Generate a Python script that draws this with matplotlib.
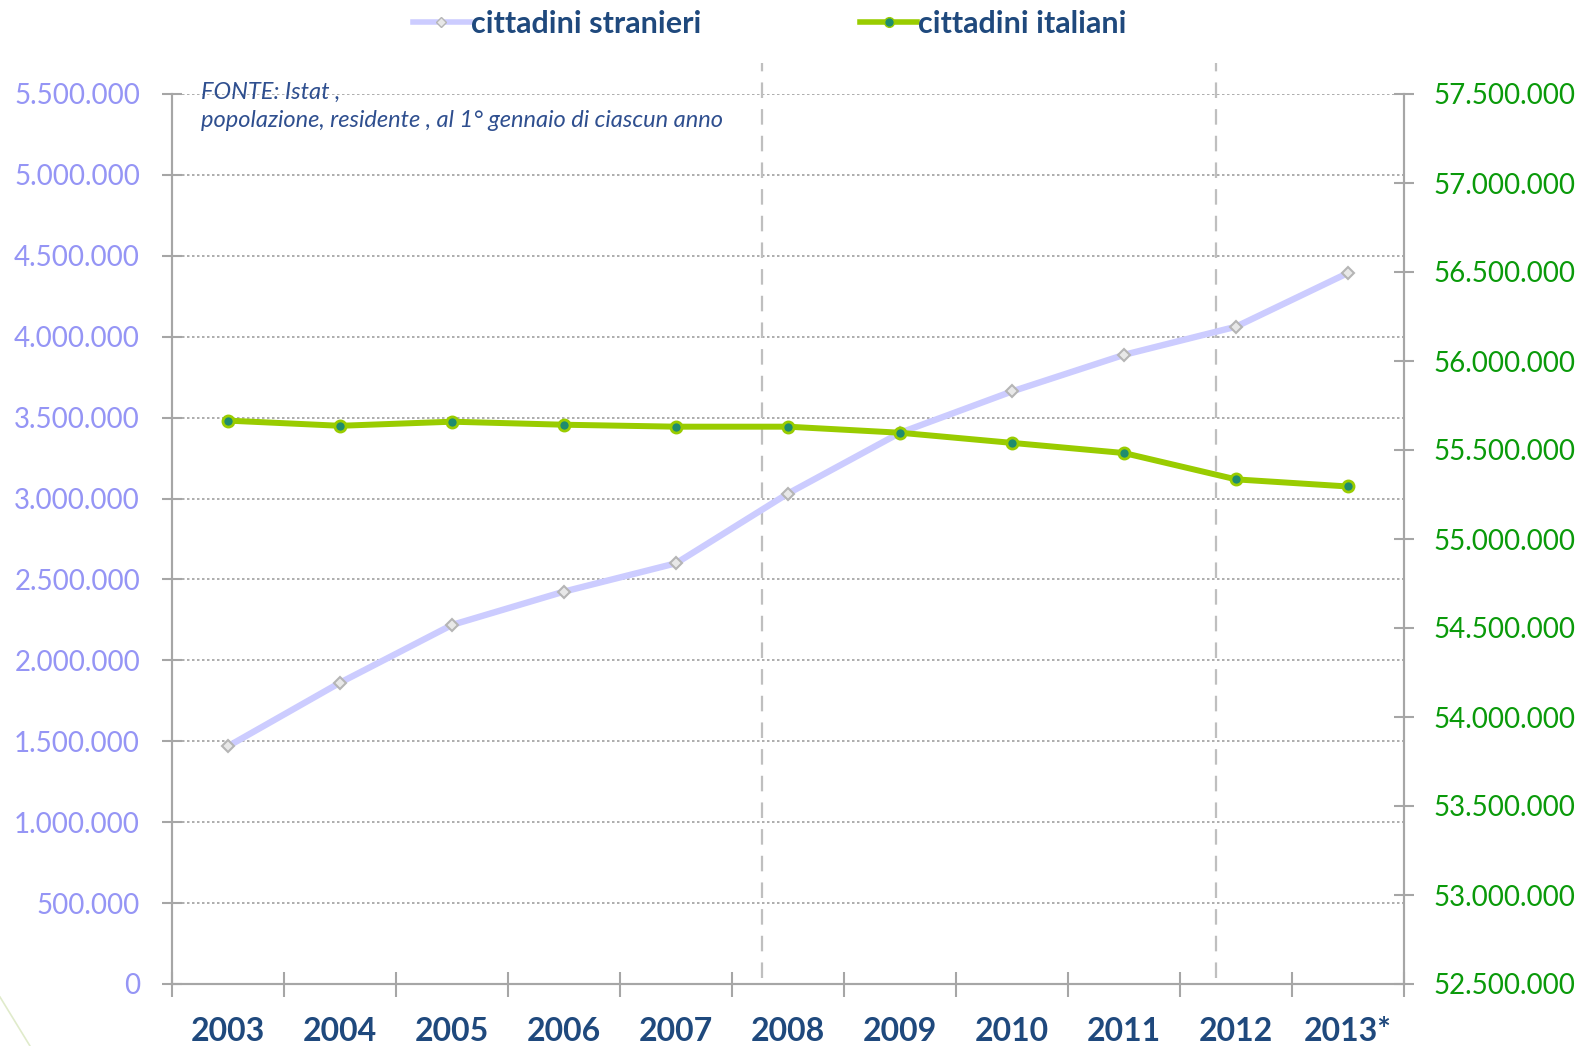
import numpy as np
import matplotlib.pyplot as plt
from matplotlib.ticker import FuncFormatter, FixedLocator
from matplotlib.lines import Line2D

plt.rcParams['font.family'] = ['Lato', 'DejaVu Sans']

anni = ["2003", "2004", "2005", "2006", "2007", "2008", "2009", "2010", "2011", "2012", "2013*"]
stranieri = [1469000, 1862000, 2219000, 2425000, 2600000, 3031000, 3406000, 3662000, 3888000, 4062000, 4394000]
italiani = [55665000, 55636000, 55659000, 55642000, 55631000, 55631000, 55597000, 55540000, 55483000, 55335000, 55295000]
linee_tratteggiate = [4.77, 8.82]

blu = "#1F497D"
lilla = "#CCCCFF"
verde = "#99CC00"
grigio = "#A6A6A6"

fig = plt.figure(figsize=(15.85, 10.46), dpi=100)
ax = fig.add_axes([172 / 1585, 1 - 984 / 1046, 1232 / 1585, 890 / 1046])
ax2 = ax.twinx()

x = np.arange(len(anni))

ax.plot(x, stranieri, color=lilla, lw=4.6, marker="D", ms=6, mfc="#E8E8E8",
        mec="#B5B5B5", mew=1.5, zorder=3, label="cittadini stranieri")
ax2.plot(x, italiani, color=verde, lw=4.3, marker="o", ms=8, mfc="#1E8C6E",
         mec=verde, mew=2, zorder=3, label="cittadini italiani")

ax.set_xlim(-0.5, len(anni) - 0.5)
ax.set_ylim(0, 5500000)
ax2.set_ylim(52500000, 57500000)

ax.set_yticks(np.arange(0, 5500001, 500000))
ax2.set_yticks(np.arange(52500000, 57500001, 500000))
fmt = FuncFormatter(lambda v, p: f"{int(v):,}".replace(",", "."))
ax.yaxis.set_major_formatter(fmt)
ax2.yaxis.set_major_formatter(fmt)

ax.xaxis.set_major_locator(FixedLocator(np.arange(-0.5, len(anni), 1)))
ax.xaxis.set_minor_locator(FixedLocator(x))
ax.set_xticklabels([], minor=False)
ax.set_xticklabels(anni, minor=True)
ax.tick_params(axis="x", which="major", direction="inout", length=18, width=1.5, color=grigio)
ax.tick_params(axis="x", which="minor", length=0, pad=24, labelsize=23, labelcolor=blu)
for t in ax.get_xticklabels(minor=True):
    t.set_fontweight("bold")

ax.tick_params(axis="y", direction="inout", length=14, width=1.5, color=grigio,
               labelsize=20, labelcolor="#9595F5", pad=16)
ax2.tick_params(axis="y", direction="inout", length=14, width=1.5, color=grigio,
                labelsize=20, labelcolor="#0A9A0A", pad=14)

ax.grid(axis="y", linestyle=(0, (1.5, 1.5)), color="#A0A0A0", lw=1.2)
ax.set_axisbelow(True)

for a in (ax, ax2):
    a.spines["top"].set_visible(False)
    for s in ("left", "right", "bottom"):
        a.spines[s].set_color(grigio)
        a.spines[s].set_linewidth(1.5)
ax2.patch.set_visible(False)

# linee tratteggiate verticali
for xl in linee_tratteggiate:
    ax.plot([xl, xl], [0.007, 1.035], transform=ax.get_xaxis_transform(),
            color="#BFBFBF", lw=1.6, dashes=(7, 5), clip_on=False, zorder=2)

ax.text(201 / 1585, 1 - 82 / 1046, "FONTE: Istat ,\npopolazione, residente , al 1° gennaio di ciascun anno",
        transform=fig.transFigure, fontsize=17, style="italic", color="#2F4F8F",
        va="top", ha="left", linespacing=1.4)

h1 = Line2D([], [], color=lilla, lw=4, marker="D", ms=5, mfc="#E8E8E8", mec="#B5B5B5")
h2 = Line2D([], [], color=verde, lw=4, marker="o", ms=7, mfc="#1E8C6E", mec=verde)
leg = fig.legend([h1, h2], ["cittadini stranieri", "cittadini italiani"], loc="center",
                 bbox_to_anchor=(770 / 1585, 1 - 24 / 1046), ncol=2, frameon=False,
                 handlelength=1.85, handletextpad=0.05, columnspacing=5.2,
                 prop={"size": 22, "weight": "bold"})
for t in leg.get_texts():
    t.set_color(blu)

# decorazione in basso a sinistra
fig.add_artist(Line2D([0, 30 / 1585], [1 - 997 / 1046, 0], color="#E0EBCB", lw=1.2,
                      transform=fig.transFigure))

fig.savefig("out.png", dpi=100)
